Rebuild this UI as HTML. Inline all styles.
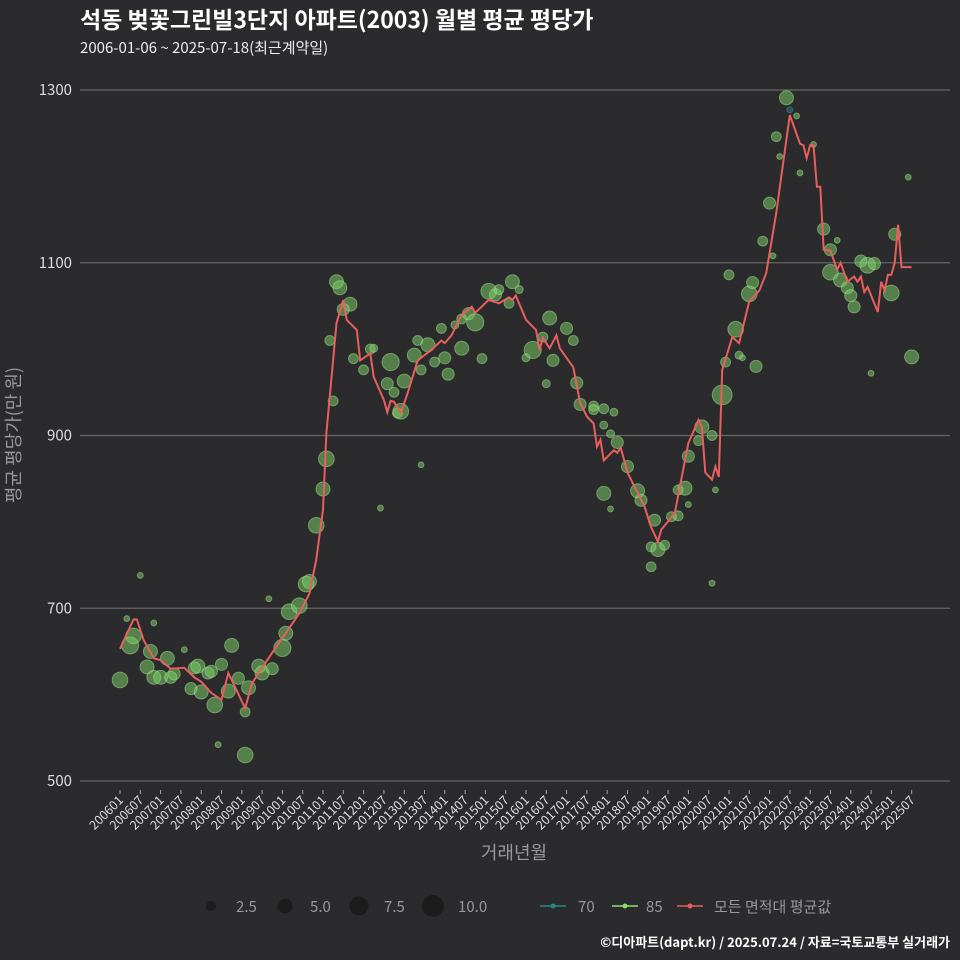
<!DOCTYPE html>
<html><head><meta charset="utf-8"><style>
body{margin:0;background:#2b2a2c;}
svg{display:block;font-family:"Noto Sans CJK KR","Liberation Sans",sans-serif;}
</style></head><body>
<svg id="c" width="960" height="960">
<rect width="960" height="960" fill="#2b2a2c"/>
<text x="80" y="28" fill="#fff" font-size="23" font-weight="bold">석동 벚꽃그린빌3단지 아파트(2003) 월별 평균 평당가</text>
<text x="80" y="53" fill="#eee" font-size="15">2006-01-06 ~ 2025-07-18(최근계약일)</text>
<g id="grid"></g>
<g id="pts"></g>
<path id="line" fill="none" stroke="#e8605e" stroke-width="2"/>
<g id="xax"></g>
<text x="514" y="859" fill="#999" font-size="18" text-anchor="middle">거래년월</text>
<text transform="translate(20,435) rotate(-90)" fill="#999" font-size="18" text-anchor="middle">평균 평당가(만 원)</text>
<g font-size="15" fill="#999">
<circle cx="211" cy="906" r="5" fill="#1c1c1c"/><text x="236" y="912">2.5</text>
<circle cx="285" cy="906" r="7.5" fill="#1c1c1c"/><text x="310" y="912">5.0</text>
<circle cx="359" cy="906" r="9.5" fill="#1c1c1c"/><text x="384" y="912">7.5</text>
<circle cx="433" cy="906" r="11" fill="#1c1c1c"/><text x="458" y="912">10.0</text>
<line x1="540" x2="566" y1="906" y2="906" stroke="#2a8a8a" stroke-width="1.5"/><circle cx="553" cy="906" r="2.5" fill="#2a8a8a"/><text x="578" y="912">70</text>
<line x1="612" x2="638" y1="906" y2="906" stroke="#8be070" stroke-width="1.5"/><circle cx="625" cy="906" r="2.5" fill="#8be070"/><text x="646" y="912">85</text>
<line x1="677" x2="703" y1="906" y2="906" stroke="#e8605e" stroke-width="1.5"/><circle cx="690" cy="906" r="2.5" fill="#e8605e"/><text x="714" y="912">모든 면적대 평균값</text>
</g>
<text x="950" y="947" fill="#fff" font-size="13" font-weight="bold" text-anchor="end">©디아파트(dapt.kr) / 2025.07.24 / 자료=국토교통부 실거래가</text>
</svg>
<script>
const yTicks=[500,700,900,1100,1300];
const lineMonths=[0,4,5,7,10,12,15,19,22,24,27,30,32,34,37,39,43,47,53,56,58,60,61,63,64,66,67,70,71,74,75,78,79,80,81,83,85,88,92,95,96,98,101,104,105,109,112,115,116,117,120,123,124,125,127,129,130,134,136,138,140,141,142,143,146,147,148,150,155,157,159,160,164,168,171,172,173,175,176,177,178,181,183,186,189,191,194,196,198,201,202,203,204,205,206,207,208,210,212,213,215,217,218,219,220,221,224,225,226,227,228,229,230,231,232,234];
const lineValues=[653,687,687,663,642,640,630,631,620,615,602,594,625,609,584,613,637,660,694,717,756,814,903,987,1030,1057,1034,1022,987,995,968,941,927,940,939,926,949,987,999,1010,1007,1016,1040,1049,1042,1057,1053,1060,1057,1062,1034,1022,999,1013,1001,1016,1001,979,938,922,914,887,895,871,883,880,886,857,818,794,777,791,810,891,918,910,857,849,864,852,976,1014,1007,1055,1068,1088,1158,1215,1271,1238,1236,1221,1236,1236,1188,1188,1115,1114,1092,1100,1078,1084,1078,1084,1066,1072,1043,1078,1068,1086,1086,1100,1144,1095,1095,1095];
const ptMonths=[0,2,3,4,6,8,9,10,10,12,14,15,16,19,21,22,23,24,26,27,29,28,30,32,33,35,37,37,38,41,42,44,45,48,49,50,53,55,56,58,60,61,63,62,64,65,66,68,69,72,74,75,77,80,79,81,82,83,84,88,87,89,89,91,93,95,96,97,101,99,101,103,105,107,109,111,112,116,115,118,127,125,120,122,128,126,132,134,135,136,140,140,143,146,143,145,143,145,147,150,153,154,158,157,159,157,161,163,165,167,165,168,168,171,172,175,175,176,178,179,180,182,183,184,186,187,188,190,192,193,194,195,197,198,200,201,205,208,210,212,210,213,215,216,217,219,221,223,222,228,229,233,234];
const ptValues=[617,688,657,668,738,632,650,683,620,620,642,620,624,652,607,631,633,603,625,627,542,588,635,604,657,619,530,580,608,633,625,711,630,654,671,696,703,728,731,796,838,873,940,1010,1078,1071,1046,1052,989,976,1000,1001,816,985,960,950,926,928,963,1010,993,976,866,1005,985,1024,990,971,1001,1028,1035,1041,1031,989,1067,1063,1069,1078,1053,1069,1036,1014,990,999,987,960,1024,1010,961,936,934,930,931,927,912,902,833,815,892,864,836,825,802,771,768,748,773,806,807,839,837,820,876,894,910,900,729,837,947,985,1086,1023,993,990,1064,1077,980,1125,1169,1108,1246,1223,1291,1277,1270,1204,1237,1139,1115,1126,1089,1080,1071,1062,1049,1102,1097,1099,972,1065,1133,1199,991];
const ptCounts=[5,0.7,6,5,0.7,4,4,0.7,4,4,4,3,3,0.7,3,3,4,4,3,3,0.7,5,3,4,4,3,5,2,4,4,4,0.7,3,6,4,5,5,5,4,5,4,5,2,2,4,4,3,4,2,2,2,1.3,0.7,6,3,2,2,5,4,2,4,2,0.7,4,2,2,3,3,4,1.3,2,3,6,2,5,3,2,4,2,1.3,4,2,1.3,6,3,1.3,3,2,3,3,2,2,2,1.3,1.3,1.3,4,0.7,3,3,4,3,3,2,4,2,2,2,2,4,2,0.7,3,2,4,2,0.7,0.7,8,2,2,5,1.3,0.7,5,3,3,2,3,0.7,2,0.7,4,0.7,0.7,0.7,0.7,3,3,0.7,5,4,3,3,3,3,5,3,0.7,5,3,0.7,4];
const ptTeal=[133];
const xLabels=[];for(let y=2006;y<=2025;y++){xLabels.push(y+'01');xLabels.push(y+'07');}
const X=m=>120+m*3.383, Y=v=>781-(v-500)*0.86375, R=c=>3.5*Math.sqrt(c);
const NS='http://www.w3.org/2000/svg';
function mk(t,a,p){const e=document.createElementNS(NS,t);for(const k in a)e.setAttribute(k,a[k]);p.appendChild(e);return e;}
const g=document.getElementById('grid');
yTicks.forEach(v=>{
 const l=mk('line',{x1:80,x2:950,y1:Y(v),y2:Y(v),stroke:'#666','stroke-width':1.2},g);
 
 
 const t=mk('text',{x:72,y:Y(v)+5,fill:'#ddd','font-size':15,'text-anchor':'end'},g);
 
 
 t.textContent=v;
});
const xa=document.getElementById('xax');
xLabels.forEach((s,i)=>{
 const x=120+i*20.3;
 const tk=mk('line',{x1:x,x2:x,y1:790,y2:794,stroke:'#aaa'},xa);
 
 
 const t=mk('text',{transform:`translate(${x+4},801) rotate(-45)`,fill:'#ddd','font-size':12.5,'text-anchor':'end'},xa);
 
 
 t.textContent=s;
});
const pg=document.getElementById('pts');
ptMonths.forEach((m,i)=>{
 const teal=ptTeal.includes(i);
 const c=mk('circle',{cx:X(m),cy:Y(ptValues[i]),r:R(ptCounts[i]),fill:teal?'#2a7a82':'#7fd46a','fill-opacity':0.5,stroke:teal?'#3aa0a8':'#a6e890','stroke-opacity':0.5,'stroke-width':1},pg);
 
 
});
document.getElementById('line').setAttribute('d',lineMonths.map((m,i)=>(i?'L':'M')+X(m).toFixed(1)+','+Y(lineValues[i]).toFixed(1)).join(''));
</script>
</body></html>
